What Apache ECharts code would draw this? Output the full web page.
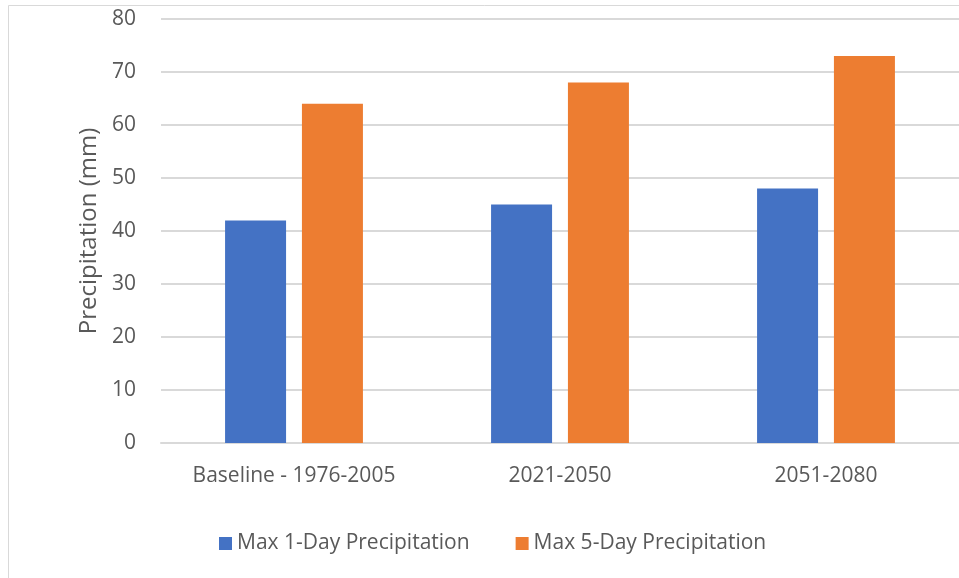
<!DOCTYPE html>
<html>
<head>
<meta charset="utf-8">
<script src="https://cdn.jsdelivr.net/npm/echarts@6/dist/echarts.min.js"></script>
<style>
  html, body { margin: 0; padding: 0; background: #fff; }
  #main { width: 959px; height: 578px; }
</style>
</head>
<body>
<div id="main"></div>
<script>
var categories = ['Baseline - 1976-2005', '2021-2050', '2051-2080'];
var max1Day = [42, 45, 48];
var max5Day = [64, 68, 73];
var seriesNames = ['Max 1-Day Precipitation', 'Max 5-Day Precipitation'];

var font = '"Open Sans", sans-serif';
var textColor = '#595959';

var myChart = echarts.init(document.getElementById('main'));
var option = {
    animation: false,
    backgroundColor: '#fff',
    graphic: [
        {
            type: 'rect',
            shape: { x: 8.5, y: 5.5, width: 1000, height: 1000 },
            style: { fill: 'none', stroke: '#d9d9d9', lineWidth: 1 },
            silent: true
        }
    ],
    grid: { left: 161, top: 19, width: 808, height: 424 },
    legend: {
        data: seriesNames,
        left: 214,
        top: 528,
        itemWidth: 13,
        itemHeight: 13,
        itemGap: 46,
        icon: 'rect',
        textStyle: { color: textColor, fontSize: 21, fontFamily: font }
    },
    xAxis: {
        type: 'category',
        data: categories,
        axisTick: { show: false },
        axisLine: { lineStyle: { color: '#d9d9d9', width: 2 } },
        axisLabel: { color: textColor, fontSize: 21, fontFamily: font, margin: 23 }
    },
    yAxis: {
        type: 'value',
        min: 0,
        max: 80,
        interval: 10,
        name: 'Precipitation (mm)',
        nameLocation: 'middle',
        nameGap: 58,
        nameTextStyle: { color: textColor, fontSize: 24, fontFamily: font },
        axisLine: { show: false },
        axisTick: { show: false },
        splitLine: { lineStyle: { color: '#d9d9d9', width: 2 } },
        axisLabel: { color: textColor, fontSize: 21, fontFamily: font, margin: 25 }
    },
    series: [
        {
            name: seriesNames[0],
            type: 'bar',
            data: max1Day,
            barWidth: 61,
            barGap: '26%',
            itemStyle: { color: '#4472c4' }
        },
        {
            name: seriesNames[1],
            type: 'bar',
            data: max5Day,
            barWidth: 61,
            itemStyle: { color: '#ed7d31' }
        }
    ]
};
myChart.setOption(option);
</script>
</body>
</html>
